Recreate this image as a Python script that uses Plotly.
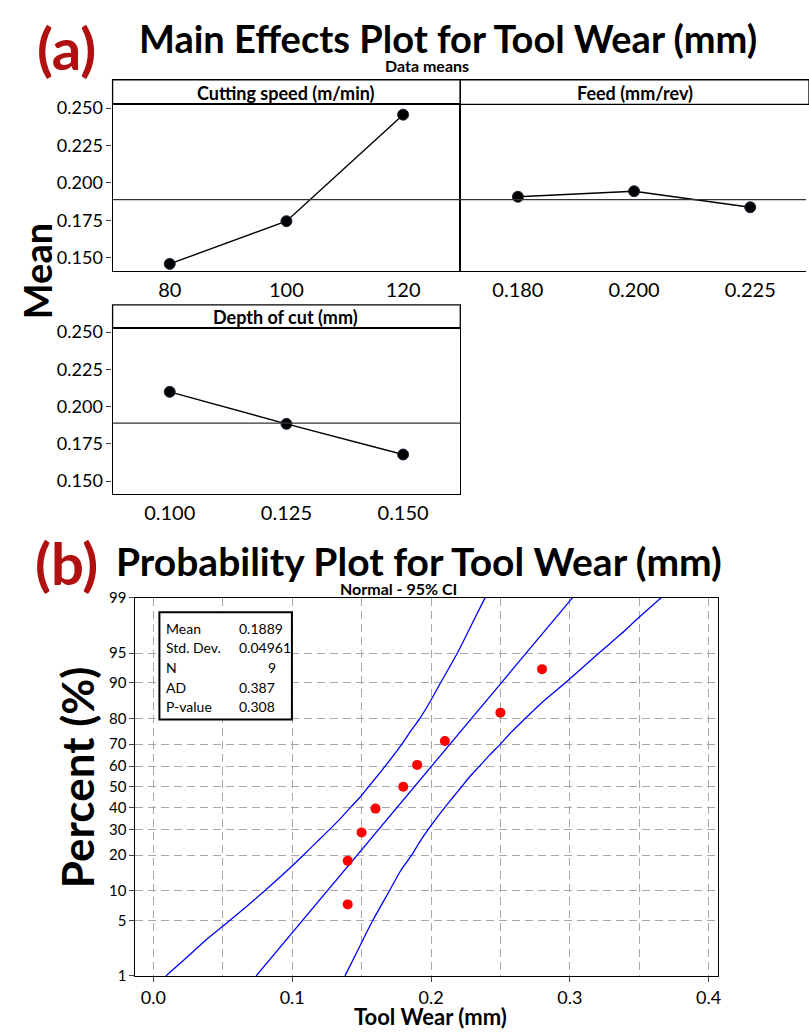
import plotly.graph_objects as go
from statistics import NormalDist

# ---------------- data : (a) main effects ----------------
speed_levels = ["80", "100", "120"]
speed_means = [0.1460, 0.1745, 0.2456]
feed_levels = ["0.180", "0.200", "0.225"]
feed_means = [0.1908, 0.1945, 0.1838]
depth_levels = ["0.100", "0.125", "0.150"]
depth_means = [0.2099, 0.1884, 0.1678]
grand_mean = 0.1889
mean_ticks = [0.150, 0.175, 0.200, 0.225, 0.250]

# ---------------- data : (b) normal probability plot ----------------
tool_wear = [0.14, 0.14, 0.15, 0.16, 0.18, 0.19, 0.21, 0.25, 0.28]
wear_percent = [7.4, 18.1, 28.7, 39.4, 50.0, 60.6, 71.3, 81.9, 92.6]
band_percent = [1, 2, 3, 5, 10, 15, 20, 25, 30, 35, 40, 45, 50, 55, 60, 65, 70, 75, 80, 85, 90, 95, 97, 98, 99]
ci_lower = [0.009, 0.027, 0.038, 0.055, 0.080, 0.096, 0.108, 0.118, 0.127, 0.135, 0.142, 0.149,
            0.155, 0.161, 0.167, 0.173, 0.179, 0.185, 0.192, 0.199, 0.207, 0.219, 0.226, 0.231, 0.239]
ci_upper = [0.138, 0.146, 0.151, 0.158, 0.170, 0.178, 0.186, 0.192, 0.198, 0.204, 0.210, 0.216,
            0.222, 0.228, 0.235, 0.242, 0.250, 0.258, 0.268, 0.280, 0.297, 0.321, 0.337, 0.348, 0.366]
fit_percent = [1, 99]
fit_wear = [0.074, 0.302]
percent_ticks = [1, 5, 10, 20, 30, 40, 50, 60, 70, 80, 90, 95, 99]
wear_ticks = [0.0, 0.1, 0.2, 0.3, 0.4]
stats_labels = ["Mean", "Std. Dev.", "N", "AD", "P-value"]
stats_values = ["0.1889", "0.04961", "9", "0.387", "0.308"]

W, H = 809, 1035
FONT = "Lato"
nd = NormalDist()


def z(p):
    return nd.inv_cdf(p / 100.0)


def px(x):
    return x / W


def py(y):
    return 1 - y / H


fig = go.Figure()

marker_a = dict(color="black", size=11, line=dict(color="#1a2a3a", width=1))
line_a = dict(color="black", width=1.4)

fig.add_trace(go.Scatter(x=speed_levels, y=speed_means, mode="lines+markers",
                         marker=marker_a, line=line_a, xaxis="x", yaxis="y", showlegend=False))
fig.add_trace(go.Scatter(x=feed_levels, y=feed_means, mode="lines+markers",
                         marker=marker_a, line=line_a, xaxis="x2", yaxis="y2", showlegend=False))
fig.add_trace(go.Scatter(x=depth_levels, y=depth_means, mode="lines+markers",
                         marker=marker_a, line=line_a, xaxis="x3", yaxis="y3", showlegend=False))

# (b) traces
blue = dict(color="#0000ff", width=1.3)
fig.add_trace(go.Scatter(x=ci_lower, y=[z(p) for p in band_percent], mode="lines",
                         line=dict(**blue, shape="spline", smoothing=0.8),
                         xaxis="x4", yaxis="y4", showlegend=False))
fig.add_trace(go.Scatter(x=ci_upper, y=[z(p) for p in band_percent], mode="lines",
                         line=dict(**blue, shape="spline", smoothing=0.8),
                         xaxis="x4", yaxis="y4", showlegend=False))
fig.add_trace(go.Scatter(x=fit_wear, y=[z(p) for p in fit_percent], mode="lines",
                         line=blue, xaxis="x4", yaxis="y4", showlegend=False))
fig.add_trace(go.Scatter(x=tool_wear, y=[z(p) for p in wear_percent], mode="markers",
                         marker=dict(color="#ff0000", size=10),
                         xaxis="x4", yaxis="y4", showlegend=False))

tickfont_a = dict(family=FONT, size=18, color="black")
xtickfont_a = dict(family=FONT, size=20, color="black")
yr = [0.1410, 0.2525]
axline = dict(showline=True, linecolor="black", linewidth=1.3)
grid = dict(showgrid=True, gridcolor="#a8a8a8", gridwidth=1, griddash="8px,5px")

layout = dict(
    width=W, height=H, autosize=False,
    margin=dict(l=0, r=0, t=0, b=0),
    paper_bgcolor="white", plot_bgcolor="white",
    font=dict(family=FONT, color="black"),
    # top-left
    xaxis=dict(domain=[px(113), px(462)], type="category", range=[-0.49, 2.49],
               showgrid=False, zeroline=False, ticks="", tickfont=xtickfont_a,
               mirror=True, **axline),
    yaxis=dict(domain=[py(266), py(96)], range=yr, tickvals=mean_ticks, tickformat=".3f",
               showgrid=False, zeroline=False, ticks="outside", ticklen=5, tickfont=tickfont_a,
               mirror=True, **axline),
    # top-right
    xaxis2=dict(domain=[px(462), 1.0], type="category", range=[-0.496, 2.48], anchor="y2",
                showgrid=False, zeroline=False, ticks="", tickfont=xtickfont_a,
                mirror=False, **axline),
    yaxis2=dict(domain=[py(266), py(96)], range=yr, anchor="x2", showticklabels=False,
                showgrid=False, zeroline=False, ticks="", mirror=False, **axline),
    # bottom-left
    xaxis3=dict(domain=[px(113), px(462)], type="category", range=[-0.49, 2.49], anchor="y3",
                showgrid=False, zeroline=False, ticks="", tickfont=xtickfont_a,
                mirror=True, **axline),
    yaxis3=dict(domain=[py(493), py(324)], range=yr, anchor="x3", tickvals=mean_ticks,
                tickformat=".3f", showgrid=False, zeroline=False, ticks="outside", ticklen=5,
                tickfont=tickfont_a, mirror=True, **axline),
    # probability plot
    xaxis4=dict(domain=[px(136), px(721)], range=[-0.0129, 0.407], anchor="y4",
                tickvals=wear_ticks, ticktext=["0.0", "0.1", "0.2", "0.3", "0.4"],
                ticks="outside", ticklen=5, tickfont=dict(family=FONT, size=18),
                minor=dict(dtick=0.05, tick0=0, **grid),
                zeroline=False, mirror=True, **grid, **axline),
    yaxis4=dict(domain=[py(983), py(598)], range=[z(1), z(99)], anchor="x4",
                tickvals=[z(p) for p in percent_ticks], ticktext=[str(p) for p in percent_ticks],
                ticks="outside", ticklen=5, tickfont=dict(family=FONT, size=15),
                zeroline=False, mirror=True, **grid, **axline),
)
fig.update_layout(**layout)

shapes = []
# reference (grand mean) lines
for xr, yrf in [("x domain", "y"), ("x2 domain", "y2"), ("x3 domain", "y3")]:
    shapes.append(dict(type="line", xref=xr, yref=yrf, x0=0, x1=1, y0=grand_mean, y1=grand_mean,
                       line=dict(color="#333333", width=1.1)))
# strip boxes
for (x0, x1, y0, y1) in [(113, 462, 71, 96), (462, 812, 71, 96), (113, 462, 300, 324)]:
    shapes.append(dict(type="rect", xref="paper", yref="paper", x0=px(x0), x1=px(x1),
                       y0=py(y1), y1=py(y0), line=dict(color="black", width=1.3),
                       fillcolor="rgba(0,0,0,0)"))
# stats box
shapes.append(dict(type="rect", xref="paper", yref="paper", x0=px(160), x1=px(293),
                   y0=py(722), y1=py(613), line=dict(color="black", width=2),
                   fillcolor="white", layer="above"))
fig.update_layout(shapes=shapes)

ann = []


def text(x, y, s, size, bold=False, color="black", xanchor="center", angle=0):
    ann.append(dict(xref="paper", yref="paper", x=px(x), y=py(y), text=("<b>%s</b>" % s) if bold else s,
                    showarrow=False, xanchor=xanchor, yanchor="middle", textangle=angle,
                    font=dict(family=FONT, size=size, color=color)))


red = "#b01010"
text(67, 38, "(a)", 58, True, red)
text(450, 29, "Main Effects Plot for Tool Wear (mm)", 38, True)
text(429, 56, "Data means", 16, True)
text(287, 84, "Cutting speed (m/min)", 18, True)
text(637, 84, "Feed (mm/rev)", 18, True)
text(287, 312, "Depth of cut (mm)", 18, True)
text(38, 266, "Mean", 38, True, angle=-90)

text(67, 562, "(b)", 58, True, red)
text(421, 561, "Probability Plot for Tool Wear (mm)", 39, True)
text(400, 589, "Normal - 95% CI", 16, True)
text(78, 781, "Percent (%)", 44, True, angle=-90)
text(432, 1024, "Tool Wear (mm)", 22, True)

rows = [629, 649, 669, 689, 709]
for lab, val, yy in zip(stats_labels, stats_values, rows):
    text(165, yy, lab, 14, xanchor="left")
    text(267 if val == "9" else 238, yy, val, 14, xanchor="left")

fig.update_layout(annotations=ann)
fig.write_html("out.html", config={"displayModeBar": False},
               post_script="document.body.style.margin='0';document.body.style.overflow='hidden';")
